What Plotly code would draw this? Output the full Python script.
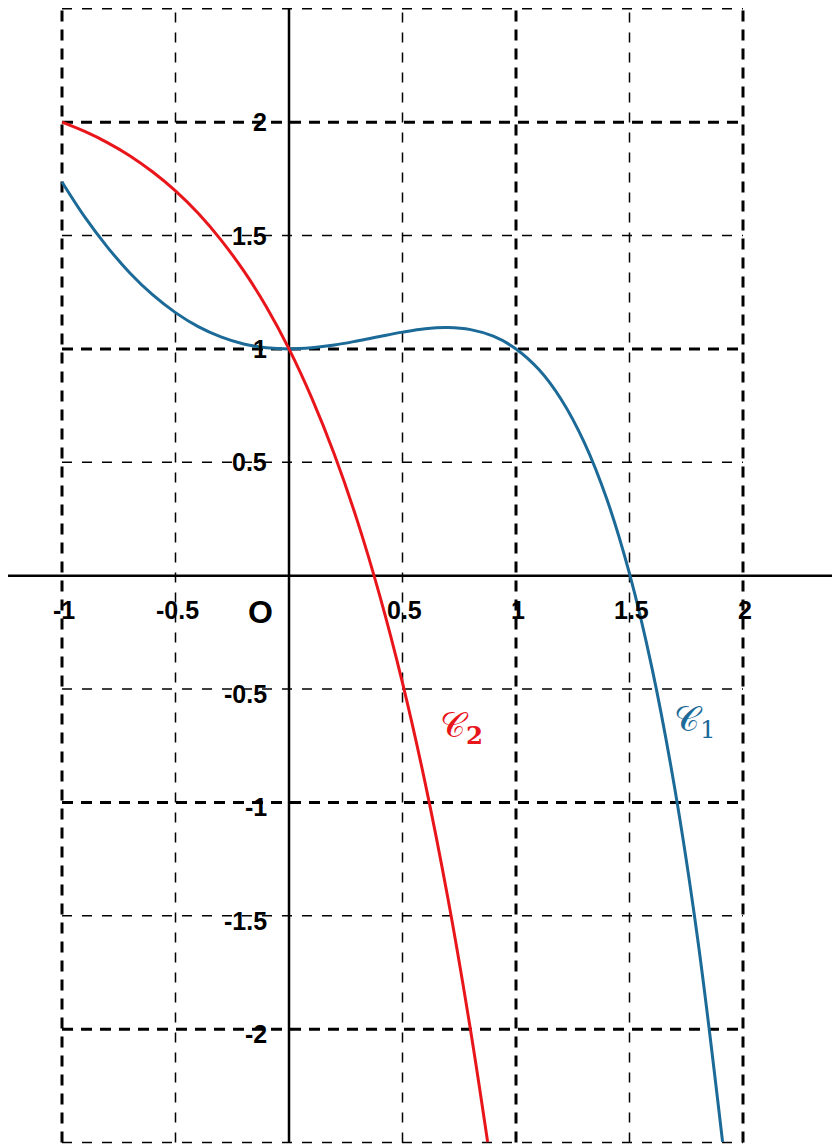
import plotly.graph_objects as go

# ---- data ----
c1_x = [-1.0, -0.9, -0.8, -0.7, -0.6, -0.5, -0.4, -0.3, -0.2, -0.1, 0.0,
        0.1, 0.2, 0.3, 0.4, 0.5, 0.6, 0.7, 0.8, 0.9, 1.0,
        1.1, 1.2, 1.3, 1.4, 1.5, 1.6, 1.7, 1.8, 1.91]
c1_y = [1.736, 1.582, 1.449, 1.334, 1.238, 1.160, 1.098, 1.053, 1.022, 1.005, 1.0,
        1.005, 1.017, 1.035, 1.055, 1.074, 1.089, 1.094, 1.085, 1.056, 1.0,
        0.910, 0.776, 0.589, 0.338, 0.009, -0.412, -0.942, -1.600, -2.497]

c2_x = [-1.0, -0.9, -0.8, -0.7, -0.6, -0.5, -0.4, -0.3, -0.2, -0.1, 0.0,
        0.1, 0.2, 0.3, 0.4, 0.5, 0.6, 0.7, 0.8, 0.875]
c2_y = [2.0, 1.959, 1.910, 1.851, 1.780, 1.697, 1.598, 1.481, 1.345, 1.186, 1.0,
        0.784, 0.534, 0.245, -0.089, -0.473, -0.915, -1.423, -2.006, -2.498]

x_major = [-1, 1, 2]
x_minor = [-0.5, 0.5, 1.5]
y_major = [-2, -1, 1, 2]
y_minor = [-2.5, -1.5, -0.5, 0.5, 1.5, 2.5]

x_ticks = [-1, -0.5, 0.5, 1, 1.5, 2]
x_tick_text = ["-1", "-0.5", "0.5", "1", "1.5", "2"]
y_ticks = [2, 1.5, 1, 0.5, -0.5, -1, -1.5, -2]
y_tick_text = ["2", "1.5", "1", "0.5", "-0.5", "-1", "-1.5", "-2"]

XMIN, XMAX = -1, 2
YMIN, YMAX = -2.5, 2.5

RED = "#e8161b"
BLUE = "#1b6a98"

fig = go.Figure()

shapes = []
for xv in x_major:
    shapes.append(dict(type="line", x0=xv, x1=xv, y0=YMIN, y1=YMAX, layer="below",
                       line=dict(color="black", width=3, dash="11px,8px")))
for xv in x_minor:
    shapes.append(dict(type="line", x0=xv, x1=xv, y0=YMIN, y1=YMAX, layer="below",
                       line=dict(color="black", width=1.5, dash="10px,10px")))
for yv in y_major:
    shapes.append(dict(type="line", x0=XMIN, x1=XMAX, y0=yv, y1=yv, layer="below",
                       line=dict(color="black", width=3, dash="11px,8px")))
for yv in y_minor:
    shapes.append(dict(type="line", x0=XMIN, x1=XMAX, y0=yv, y1=yv, layer="below",
                       line=dict(color="black", width=1.5, dash="10px,10px")))
# axes
shapes.append(dict(type="line", x0=-1.25, x1=2.5, y0=0, y1=0, layer="below",
                   line=dict(color="black", width=2.5)))
shapes.append(dict(type="line", x0=0, x1=0, y0=YMIN, y1=YMAX, layer="below",
                   line=dict(color="black", width=2.5)))

fig.add_trace(go.Scatter(x=c1_x, y=c1_y, mode="lines", line=dict(color=BLUE, width=3, shape="spline"),
                         hoverinfo="skip", showlegend=False))
fig.add_trace(go.Scatter(x=c2_x, y=c2_y, mode="lines", line=dict(color=RED, width=3, shape="spline"),
                         hoverinfo="skip", showlegend=False))

annotations = []
tick_font = dict(family="Liberation Sans, Arial, sans-serif", size=25, color="black")
for xv, t in zip(x_ticks, x_tick_text):
    annotations.append(dict(x=xv, y=0, text="<b>%s</b>" % t, showarrow=False,
                            xanchor="center", yanchor="middle", yshift=-34, xshift=2, font=tick_font))
for yv, t in zip(y_ticks, y_tick_text):
    annotations.append(dict(x=0, y=yv, text="<b>%s</b>" % t, showarrow=False,
                            xanchor="right", yanchor="middle", xshift=-20,
                            yshift=(-5 if yv < 0 else 0), font=tick_font))
annotations.append(dict(x=0, y=0, text="<b>O</b>", showarrow=False, xanchor="center", yanchor="middle",
                        xshift=-29, yshift=-36,
                        font=dict(family="Liberation Sans, Arial, sans-serif", size=32, color="black")))
annotations.append(dict(x=0.758, y=-0.67, text="𝒞<sub><b>2</b></sub>", showarrow=False,
                        font=dict(family="DejaVu Serif, serif", size=35, color=RED)))
annotations.append(dict(x=1.789, y=-0.643, text="𝒞<sub>1</sub>", showarrow=False,
                        font=dict(family="DejaVu Serif, serif", size=35, color=BLUE)))

fig.update_layout(
    width=832, height=1136,
    margin=dict(l=0, r=0, t=0, b=0),
    paper_bgcolor="white", plot_bgcolor="white",
    xaxis=dict(range=[-1.2379, 2.4273], visible=False, fixedrange=True),
    yaxis=dict(range=[-2.5065, 2.5035], visible=False, fixedrange=True),
    shapes=shapes, annotations=annotations,
)

fig.write_html("out.html")
